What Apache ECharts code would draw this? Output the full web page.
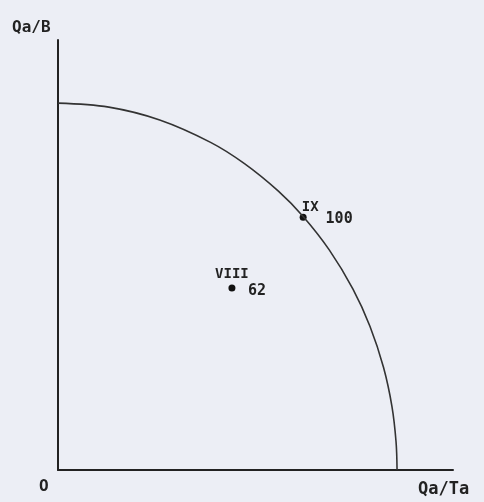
<!DOCTYPE html>
<html>
<head>
<meta charset="utf-8">
<script src="https://cdn.jsdelivr.net/npm/echarts@6/dist/echarts.min.js"></script>
<style>
  html, body { margin: 0; padding: 0; background: #eceef5; }
  #chart { width: 484px; height: 502px; }
</style>
</head>
<body>
<div id="chart"></div>
<script>
// curve, both axes scaled so the intercepts sit at 100
const curveX = [0, 15, 30, 45, 55, 65, 72.3, 80, 87, 92, 96, 98.5, 99.7, 100]
const curveY = [100, 98.9, 95.4, 89.3, 83.5, 76.0, 69.1, 60.0, 49.3, 39.2, 28.0, 17.3, 7.7, 0]

const pointNames = ['IX', 'VIII']
const pointValues = [100, 62]
const pointX = [72.3, 51.3]
const pointY = [68.9, 49.6]

const nameOffsets = [[7, -10], [0, -14]]
const valueOffsets = [[36, 2], [25, 3]]

const ink = '#222'
const font = 'DejaVu Sans Mono'

const chart = echarts.init(document.getElementById('chart'))

chart.setOption({
  backgroundColor: '#eceef5',
  animation: false,
  grid: { left: 58, top: 40, right: 31, bottom: 32 },
  xAxis: {
    type: 'value', min: 0, max: 116.5,
    splitLine: { show: false },
    axisTick: { show: false },
    axisLabel: { show: false },
    axisLine: { show: true, onZero: false, lineStyle: { color: ink, width: 2 } }
  },
  yAxis: {
    type: 'value', min: 0, max: 117.2,
    splitLine: { show: false },
    axisTick: { show: false },
    axisLabel: { show: false },
    axisLine: { show: true, onZero: false, lineStyle: { color: ink, width: 2 } }
  },
  graphic: [
    { type: 'text', left: 12, top: 20, style: { text: 'Qa/B', fill: ink, font: 'bold 16px ' + font } },
    { type: 'text', left: 39, top: 479, style: { text: 'O', fill: ink, font: 'bold 16px ' + font } },
    { type: 'text', left: 418, top: 481, style: { text: 'Qa/Ta', fill: ink, font: 'bold 17px ' + font } }
  ],
  series: [
    {
      type: 'line',
      smooth: 0.35,
      showSymbol: false,
      data: curveX.map((x, i) => [x, curveY[i]]),
      lineStyle: { color: '#333', width: 1.6 }
    },
    {
      type: 'scatter',
      symbolSize: 7,
      itemStyle: { color: '#111', opacity: 1 },
      data: pointX.map((x, i) => ({
        value: [x, pointY[i]],
        name: pointNames[i],
        label: { offset: nameOffsets[i] }
      })),
      label: {
        show: true, position: 'inside', formatter: '{b}',
        color: ink, textBorderWidth: 0,
        fontFamily: font, fontWeight: 'bold', fontSize: 14
      }
    },
    {
      type: 'scatter',
      symbolSize: 0,
      silent: true,
      itemStyle: { opacity: 1 },
      data: pointX.map((x, i) => ({
        value: [x, pointY[i]],
        name: String(pointValues[i]),
        label: { offset: valueOffsets[i] }
      })),
      label: {
        show: true, position: 'inside', formatter: '{b}',
        color: ink, textBorderWidth: 0,
        fontFamily: font, fontWeight: 'bold', fontSize: 15
      }
    }
  ]
})
</script>
</body>
</html>
